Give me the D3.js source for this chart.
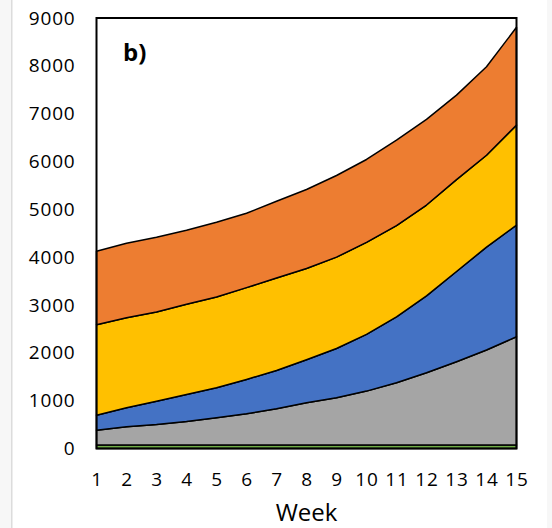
<!DOCTYPE html>
<html>
<head>
<meta charset="utf-8">
<script src="https://cdn.jsdelivr.net/npm/d3@7"></script>
<style>
  body { margin: 0; background: #fff; }
  svg { display: block; }
</style>
</head>
<body>
<script>
// weeks on the x axis
const weeks = [1, 2, 3, 4, 5, 6, 7, 8, 9, 10, 11, 12, 13, 14, 15];

// layer values (bottom to top)
const green = [75, 75, 75, 75, 75, 75, 75, 75, 75, 75, 75, 75, 75, 75, 75];
const gray = [308, 379, 427, 490, 568, 651, 756, 880, 985, 1125, 1300, 1510, 1740, 1985, 2260];
const blue = [314, 398, 488, 565, 627, 718, 801, 900, 1030, 1185, 1375, 1605, 1885, 2150, 2335];
const yellow = [1892, 1883, 1863, 1884, 1897, 1919, 1932, 1908, 1910, 1925, 1910, 1900, 1920, 1920, 2090];
const orange = [1534, 1555, 1563, 1549, 1563, 1555, 1605, 1651, 1707, 1732, 1786, 1789, 1768, 1850, 2045];

const keys = ["green", "gray", "blue", "yellow", "orange"];
const colors = ["#70AD47", "#A5A5A5", "#4472C4", "#FFC000", "#ED7D31"];
const yTicks = [0, 1000, 2000, 3000, 4000, 5000, 6000, 7000, 8000, 9000];

const width = 552;
const height = 528;
const plotLeft = 96.5, plotRight = 516.5, plotTop = 18, plotBottom = 448.5;

const table = weeks.map((w, i) => ({
  week: w,
  green: green[i],
  gray: gray[i],
  blue: blue[i],
  yellow: yellow[i],
  orange: orange[i],
}));

const series = d3.stack().keys(keys)(table);

const x = d3.scaleLinear().domain([1, 15]).range([plotLeft, plotRight]);
const y = d3.scaleLinear().domain([0, 9000]).range([plotBottom, plotTop]);

const svg = d3
  .select("body")
  .append("svg")
  .attr("width", width)
  .attr("height", height);

// page margins (light gray strips)
svg.append("rect").attr("x", 0).attr("y", 0).attr("width", 11).attr("height", height).attr("fill", "#f7f7f7");
svg.append("rect").attr("x", 11).attr("y", 0).attr("width", 1.5).attr("height", height).attr("fill", "#dcdcdc");
svg.append("rect").attr("x", 547).attr("y", 0).attr("width", 5).attr("height", height).attr("fill", "#f7f7f7");

const area = d3
  .area()
  .x((d) => x(d.data.week))
  .y0((d) => y(d[0]))
  .y1((d) => y(d[1]));

svg
  .append("g")
  .selectAll("path")
  .data(series)
  .join("path")
  .attr("d", area)
  .attr("fill", (d, i) => colors[i])
  .attr("stroke", "#000")
  .attr("stroke-width", 1.5)
  .attr("stroke-linejoin", "round");

// plot frame
svg
  .append("rect")
  .attr("x", plotLeft)
  .attr("y", plotTop)
  .attr("width", plotRight - plotLeft)
  .attr("height", plotBottom - plotTop)
  .attr("fill", "none")
  .attr("stroke", "#000")
  .attr("stroke-width", 2);

const font = "'Open Sans', sans-serif";

const yAxis = svg
  .append("g")
  .attr("transform", `translate(${plotLeft},0)`)
  .call(d3.axisLeft(y).tickValues(yTicks).tickSize(0).tickPadding(21).tickFormat(d3.format("d")));
yAxis.select(".domain").remove();
yAxis
  .selectAll("text")
  .attr("fill", "#000")
  .style("font-family", font)
  .style("font-size", "19px")
  .style("letter-spacing", "0.8px");

const xAxis = svg
  .append("g")
  .attr("transform", `translate(0,${plotBottom})`)
  .call(d3.axisBottom(x).tickValues(weeks).tickSize(0).tickPadding(24).tickFormat(d3.format("d")));
xAxis.select(".domain").remove();
xAxis
  .selectAll("text")
  .attr("fill", "#000")
  .style("font-family", font)
  .style("font-size", "19px")
  .style("letter-spacing", "0.8px");

svg
  .append("text")
  .attr("x", (plotLeft + plotRight) / 2)
  .attr("y", 521)
  .attr("text-anchor", "middle")
  .style("font-family", font)
  .style("font-size", "24px")
  .text("Week");

svg
  .append("text")
  .attr("x", 123)
  .attr("y", 61)
  .style("font-family", font)
  .style("font-size", "24px")
  .style("font-weight", "bold")
  .text("b)");
</script>
</body>
</html>
